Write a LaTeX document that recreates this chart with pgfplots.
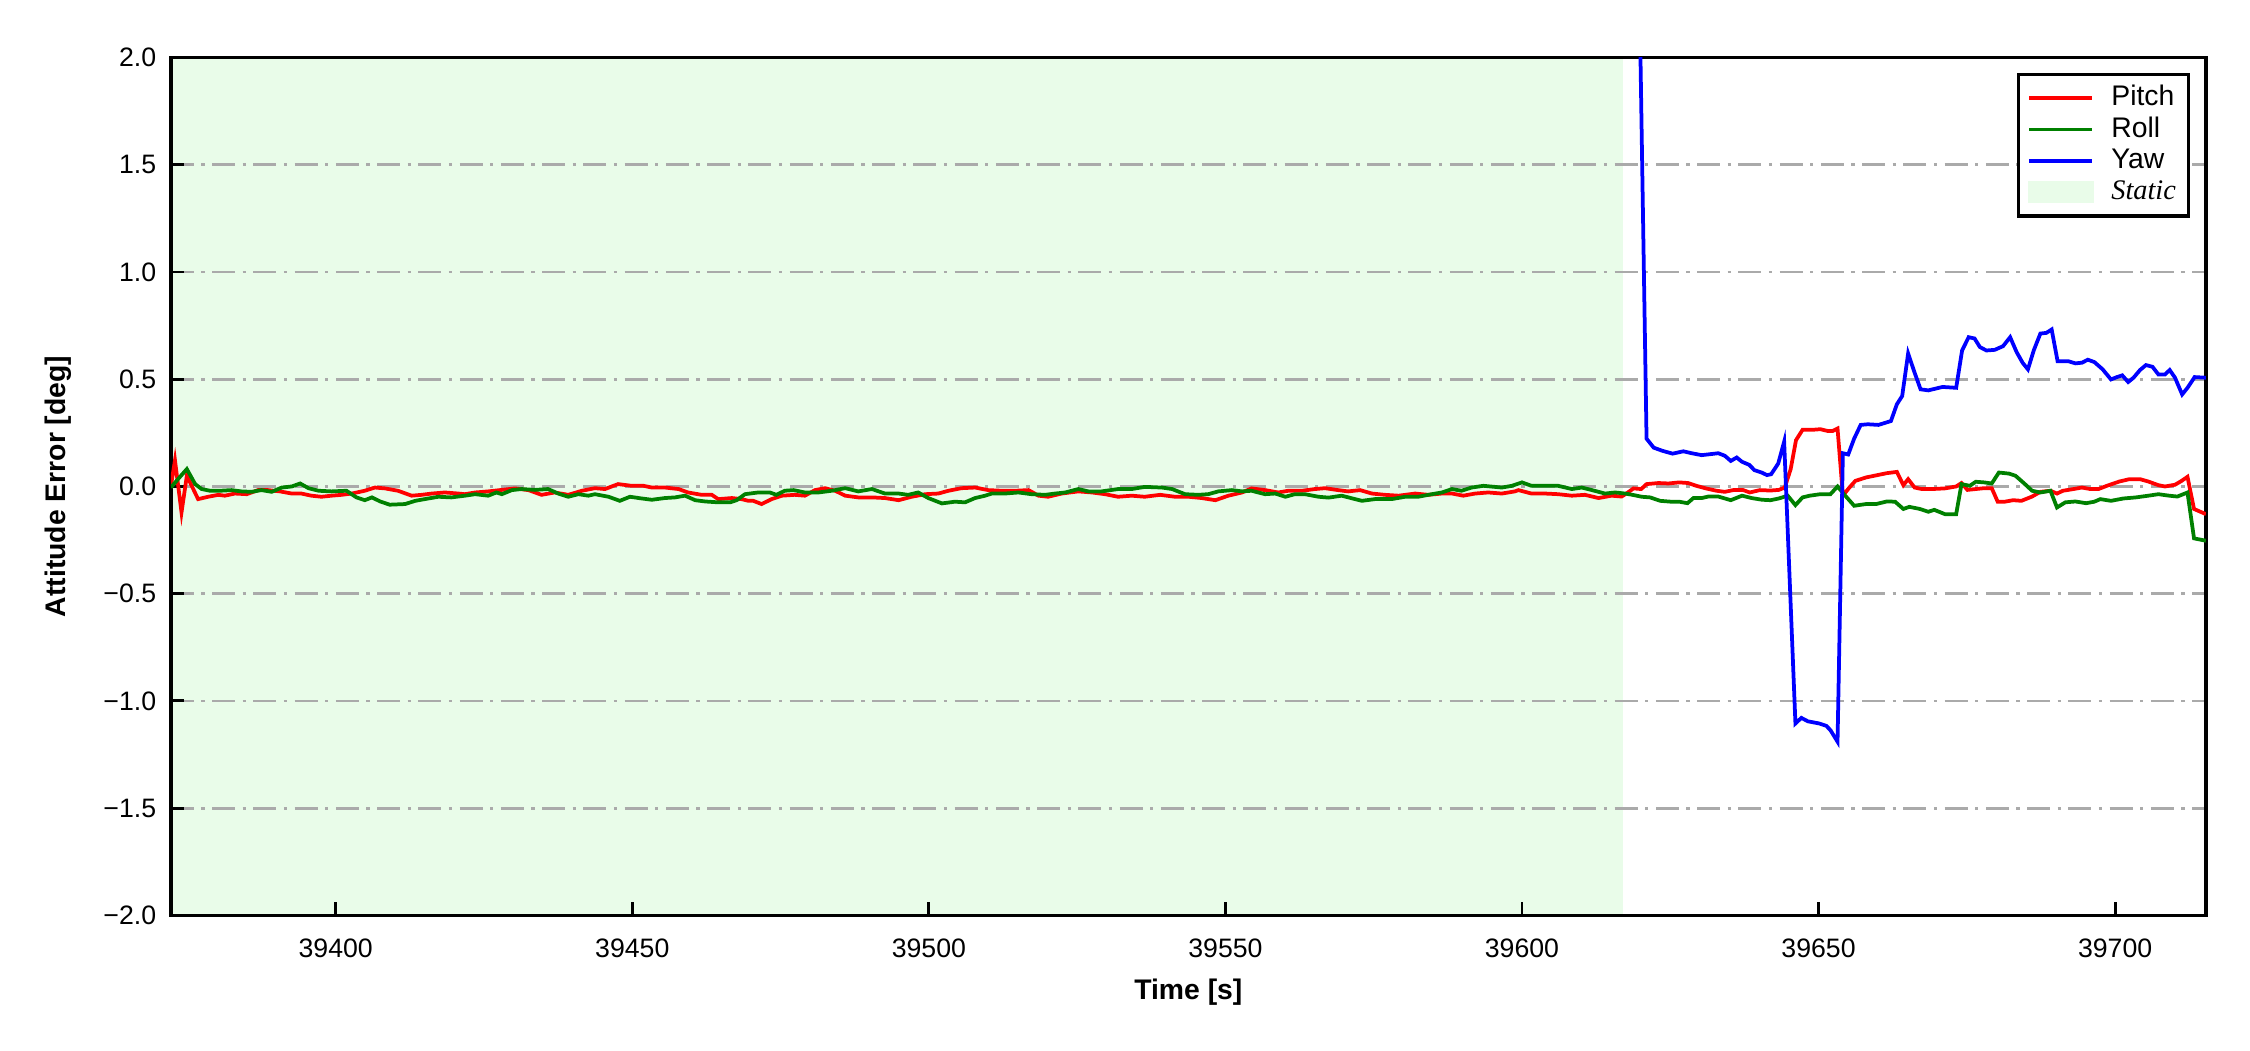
\documentclass[border=0pt]{standalone}
\usepackage{fontspec}
\setmainfont{Liberation Sans}
\newfontfamily\serifit{Liberation Serif}
\usepackage{pgfplots}
\pgfplotsset{compat=1.18}
\definecolor{staticgreen}{RGB}{233,252,233}
\definecolor{gridgray}{RGB}{170,170,170}
\definecolor{mplgreen}{RGB}{0,128,0}
\begin{document}
\begin{tikzpicture}
\begin{axis}[
  set layers,
  scale only axis,
  width=488.4pt, height=205.9pt,
  at={(0,0)}, anchor=south west,
  xmin=39372.2, xmax=39715.3,
  ymin=-2, ymax=2,
  scaled x ticks=false, scaled y ticks=false,
  xtick={39400,39450,39500,39550,39600,39650,39700},
  xticklabels={39400,39450,39500,39550,39600,39650,39700},
  ytick={-2,-1.5,-1,-0.5,0,0.5,1,1.5,2},
  yticklabels={−2.0,−1.5,−1.0,−0.5,0.0,0.5,1.0,1.5,2.0},
  tick pos=left, tick align=inside,
  major tick length=3.2pt,
  every tick/.style={black, line width=0.7pt},
  axis line style={black, line width=0.8pt},
  ymajorgrids,
  y grid style={gridgray, line width=0.65pt, dash pattern=on 5.5pt off 1.8pt on 0.8pt off 1.8pt},
  tick label style={font=\fontsize{6.4}{7}\selectfont},
  xticklabel style={yshift=-2.0pt},
  label style={font=\fontsize{6.8}{8}\selectfont\bfseries},
  xlabel={Time [s]}, ylabel={Attitude Error [deg]},
  xlabel style={at={(axis description cs:0.5,-0.0889)}, anchor=center},
  ylabel style={at={(axis description cs:-0.0555,0.5)}, anchor=center},
  legend style={at={(rel axis cs:1,1)}, anchor=north east, xshift=-3.8pt, yshift=-3.6pt,
    draw=black, line width=0.8pt, fill=white, font=\fontsize{6.8}{8}\selectfont,
    inner xsep=2.2pt, inner ysep=2pt, row sep=0pt,
    nodes={inner sep=0.8pt, text height=4.8pt, text depth=1.1pt},
    cells={anchor=west},
    /tikz/every odd column/.append style={column sep=3.4pt}},
  legend image code/.code={\draw[#1] (0pt,0pt) -- (15pt,0pt);},
]
\addplot[fill=staticgreen, draw=none, on layer=axis background, forget plot]
  coordinates {(39372.2,-2) (39617,-2) (39617,2) (39372.2,2)} -- cycle;

\addplot[red, line width=0.9pt] coordinates {
(39372.2,0.000) (39372.9,0.122) (39374.0,-0.121) (39374.9,0.050) (39376.8,-0.059)
(39378.5,-0.048) (39380.2,-0.039) (39381.3,-0.043) (39383.0,-0.033) (39385.0,-0.036)
(39386.9,-0.017) (39388.6,-0.017) (39390.6,-0.023) (39392.6,-0.033) (39394.2,-0.033)
(39395.9,-0.043) (39397.6,-0.048) (39399.3,-0.043) (39401.0,-0.039) (39402.7,-0.033)
(39404.9,-0.020) (39406.6,-0.005) (39408.3,-0.009) (39410.5,-0.020) (39412.8,-0.043)
(39414.5,-0.039) (39416.2,-0.033) (39418.4,-0.028) (39420.7,-0.033) (39421.8,-0.036)
(39423.5,-0.028) (39425.7,-0.023) (39428.0,-0.016) (39430.2,-0.009) (39432.5,-0.017)
(39434.7,-0.039) (39436.9,-0.028) (39439.2,-0.039) (39441.5,-0.020) (39443.7,-0.008)
(39445.4,-0.012) (39447.6,0.011) (39449.9,0.003) (39451.9,0.003) (39453.3,-0.005)
(39455.5,-0.005) (39457.8,-0.012) (39459.4,-0.028) (39461.7,-0.039) (39463.4,-0.039)
(39464.5,-0.059) (39466.8,-0.054) (39468.4,-0.059) (39469.6,-0.067) (39470.4,-0.067)
(39471.8,-0.082) (39473.5,-0.059) (39475.2,-0.043) (39477.4,-0.039) (39479.1,-0.043)
(39480.8,-0.017) (39482.5,-0.008) (39484.2,-0.020) (39485.9,-0.043) (39488.1,-0.051)
(39490.4,-0.051) (39492.6,-0.054) (39494.9,-0.064) (39497.1,-0.048) (39499.4,-0.036)
(39501.6,-0.033) (39503.3,-0.020) (39505.5,-0.008) (39507.8,-0.005) (39510.0,-0.017)
(39512.3,-0.020) (39514.5,-0.020) (39516.8,-0.017) (39518.5,-0.043) (39520.1,-0.048)
(39522.4,-0.033) (39525.2,-0.023) (39527.5,-0.028) (39529.7,-0.036) (39531.9,-0.048)
(39534.2,-0.043) (39536.4,-0.048) (39539.0,-0.039) (39541.5,-0.048) (39543.8,-0.048)
(39546.0,-0.054) (39548.3,-0.064) (39550.5,-0.043) (39552.8,-0.028) (39554.4,-0.009)
(39556.7,-0.017) (39558.9,-0.028) (39560.6,-0.020) (39562.9,-0.020) (39565.1,-0.012)
(39566.8,-0.008) (39569.0,-0.017) (39570.7,-0.023) (39572.7,-0.017) (39574.7,-0.033)
(39576.9,-0.039) (39579.2,-0.043) (39582.0,-0.033) (39584.2,-0.039) (39586.5,-0.033)
(39588.2,-0.033) (39590.1,-0.043) (39592.1,-0.033) (39594.3,-0.028) (39596.6,-0.033)
(39598.8,-0.023) (39599.4,-0.017) (39601.6,-0.033) (39603.9,-0.033) (39606.1,-0.036)
(39608.4,-0.043) (39610.6,-0.039) (39612.9,-0.054) (39615.1,-0.043) (39616.8,-0.047)
(39617.7,-0.031) (39618.8,-0.009) (39620.1,-0.012) (39621.0,0.011) (39623.0,0.016)
(39624.7,0.014) (39626.5,0.019) (39628.0,0.016) (39629.4,0.003) (39631.0,-0.009)
(39632.8,-0.020) (39634.2,-0.025) (39635.6,-0.017) (39637.2,-0.016) (39638.4,-0.028)
(39640.1,-0.017) (39641.9,-0.019) (39643.3,-0.016) (39644.3,-0.005) (39645.3,0.081)
(39646.2,0.216) (39647.3,0.264) (39648.9,0.264) (39650.3,0.267) (39651.5,0.259)
(39652.4,0.259) (39653.2,0.270) (39654.1,-0.043) (39655.2,-0.005) (39656.2,0.026)
(39658.0,0.042) (39659.4,0.050) (39661.5,0.062) (39663.2,0.068) (39664.3,0.006)
(39665.1,0.034) (39666.2,-0.005) (39667.4,-0.012) (39669.2,-0.012) (39671.3,-0.009)
(39673.2,0.000) (39674.1,0.016) (39675.1,-0.016) (39676.5,-0.012) (39677.9,-0.008)
(39679.2,-0.008) (39680.2,-0.071) (39681.4,-0.071) (39682.8,-0.064) (39684.2,-0.067)
(39686.0,-0.047) (39687.4,-0.025) (39689.1,-0.020) (39690.2,-0.033) (39691.2,-0.020)
(39693.0,-0.012) (39694.4,-0.005) (39695.8,-0.012) (39697.2,-0.012) (39698.6,0.003)
(39700.7,0.023) (39702.4,0.034) (39704.2,0.034) (39705.6,0.023) (39707.3,0.006)
(39708.4,0.000) (39710.1,0.008) (39711.2,0.026) (39712.2,0.045) (39713.3,-0.105)
(39715.3,-0.129)
};
\addlegendentry{Pitch}

\addplot[mplgreen, line width=0.9pt] coordinates {
(39372.2,-0.005) (39373.4,0.034) (39374.9,0.081) (39376.3,0.011) (39377.4,-0.012)
(39378.8,-0.020) (39380.5,-0.020) (39382.4,-0.017) (39384.1,-0.023) (39385.8,-0.025)
(39387.5,-0.017) (39389.2,-0.025) (39390.9,-0.005) (39392.6,0.000) (39394.0,0.014)
(39395.4,-0.008) (39397.1,-0.020) (39399.3,-0.023) (39401.8,-0.020) (39403.5,-0.051)
(39404.9,-0.064) (39406.1,-0.051) (39407.5,-0.070) (39409.1,-0.085) (39411.7,-0.082)
(39413.4,-0.067) (39415.0,-0.059) (39417.3,-0.048) (39419.5,-0.051) (39421.8,-0.043)
(39423.5,-0.036) (39425.7,-0.043) (39427.1,-0.028) (39428.0,-0.036) (39429.7,-0.017)
(39431.3,-0.012) (39433.6,-0.016) (39435.8,-0.012) (39437.5,-0.033) (39439.2,-0.048)
(39440.9,-0.036) (39442.6,-0.043) (39443.7,-0.036) (39446.0,-0.048) (39447.9,-0.067)
(39449.6,-0.048) (39451.6,-0.056) (39453.3,-0.062) (39455.5,-0.054) (39457.2,-0.051)
(39458.9,-0.043) (39460.6,-0.064) (39462.3,-0.070) (39464.5,-0.074) (39466.5,-0.074)
(39467.6,-0.064) (39469.0,-0.036) (39471.2,-0.028) (39473.2,-0.028) (39474.3,-0.039)
(39475.7,-0.020) (39477.2,-0.017) (39479.1,-0.028) (39481.4,-0.028) (39483.6,-0.020)
(39485.9,-0.008) (39488.1,-0.023) (39490.4,-0.012) (39492.6,-0.033) (39494.9,-0.033)
(39496.5,-0.039) (39498.2,-0.028) (39499.9,-0.054) (39502.2,-0.079) (39504.4,-0.071)
(39506.1,-0.074) (39507.8,-0.054) (39509.5,-0.043) (39510.6,-0.033) (39512.8,-0.033)
(39515.1,-0.028) (39517.3,-0.036) (39519.6,-0.039) (39521.3,-0.033) (39523.0,-0.028)
(39525.2,-0.012) (39526.9,-0.023) (39529.1,-0.023) (39531.9,-0.012) (39534.2,-0.012)
(39536.4,-0.002) (39539.3,-0.005) (39541.0,-0.012) (39543.2,-0.036) (39545.4,-0.039)
(39547.1,-0.036) (39548.8,-0.023) (39551.1,-0.017) (39552.8,-0.023) (39554.4,-0.020)
(39556.7,-0.036) (39558.4,-0.033) (39560.1,-0.048) (39561.7,-0.036) (39563.4,-0.036)
(39565.7,-0.048) (39567.4,-0.052) (39569.6,-0.043) (39573.0,-0.067) (39575.2,-0.059)
(39578.0,-0.059) (39580.3,-0.048) (39582.5,-0.048) (39584.8,-0.036) (39586.5,-0.028)
(39588.2,-0.012) (39589.8,-0.020) (39591.5,-0.005) (39593.5,0.003) (39596.6,-0.005)
(39598.3,0.003) (39600.0,0.019) (39601.6,0.003) (39603.9,0.003) (39606.1,0.003)
(39608.4,-0.012) (39610.1,-0.005) (39611.8,-0.017) (39614.0,-0.033) (39615.7,-0.028)
(39617.4,-0.033) (39618.8,-0.040) (39620.2,-0.048) (39621.6,-0.051) (39623.3,-0.067)
(39625.1,-0.071) (39626.5,-0.071) (39627.9,-0.078) (39628.9,-0.054) (39630.3,-0.054)
(39631.4,-0.047) (39633.1,-0.047) (39635.2,-0.064) (39637.1,-0.043) (39638.7,-0.054)
(39640.5,-0.062) (39641.9,-0.064) (39643.3,-0.056) (39644.8,-0.043) (39646.1,-0.087)
(39647.3,-0.051) (39648.5,-0.043) (39650.3,-0.036) (39652.0,-0.036) (39653.2,0.000)
(39654.5,-0.043) (39656.0,-0.090) (39658.0,-0.082) (39659.7,-0.082) (39661.5,-0.070)
(39662.9,-0.071) (39664.3,-0.105) (39665.3,-0.095) (39667.1,-0.105) (39668.5,-0.118)
(39669.5,-0.109) (39671.3,-0.129) (39673.2,-0.129) (39674.1,0.011) (39675.5,0.003)
(39676.5,0.022) (39677.9,0.019) (39679.2,0.014) (39680.4,0.065) (39682.1,0.060)
(39683.2,0.050) (39684.6,0.016) (39686.0,-0.020) (39687.4,-0.028) (39689.1,-0.020)
(39690.2,-0.098) (39691.6,-0.074) (39693.3,-0.070) (39695.1,-0.078) (39696.5,-0.071)
(39697.5,-0.059) (39699.3,-0.067) (39701.4,-0.056) (39703.5,-0.051) (39705.6,-0.043)
(39707.3,-0.036) (39709.1,-0.043) (39710.5,-0.047) (39712.2,-0.028) (39713.3,-0.242)
(39715.3,-0.253)
};
\addlegendentry{Roll}

\addplot[blue, line width=0.9pt] coordinates {
(39619.4,3.0) (39621.0,0.223) (39622.2,0.181) (39623.7,0.166) (39625.4,0.153)
(39627.2,0.164) (39628.6,0.155) (39630.3,0.146) (39633.1,0.155) (39634.2,0.143)
(39635.2,0.119) (39636.2,0.135) (39637.1,0.115) (39638.3,0.101) (39639.2,0.076)
(39640.4,0.065) (39641.3,0.053) (39642.0,0.057) (39643.2,0.107) (39644.2,0.209)
(39646.1,-1.105) (39647.1,-1.079) (39648.2,-1.095) (39650.1,-1.105) (39651.3,-1.116)
(39652.0,-1.136) (39653.2,-1.190) (39654.1,0.155) (39655.0,0.149) (39656.0,0.223)
(39657.1,0.287) (39658.3,0.290) (39660.1,0.287) (39662.2,0.305) (39663.2,0.383)
(39664.1,0.422) (39665.1,0.620) (39666.2,0.530) (39667.2,0.453) (39668.5,0.448)
(39670.9,0.464) (39673.2,0.460) (39674.2,0.634) (39675.3,0.696) (39676.3,0.690)
(39677.2,0.650) (39678.3,0.634) (39679.7,0.637) (39681.1,0.654) (39682.3,0.696)
(39683.4,0.626) (39684.4,0.577) (39685.3,0.546) (39686.3,0.636) (39687.4,0.713)
(39688.4,0.716) (39689.3,0.732) (39690.3,0.584) (39692.1,0.584) (39693.3,0.574)
(39694.4,0.577) (39695.4,0.591) (39696.5,0.580) (39697.9,0.546) (39699.3,0.499)
(39700.3,0.510) (39701.2,0.518) (39702.2,0.487) (39703.1,0.507) (39704.2,0.543)
(39705.2,0.566) (39706.3,0.558) (39707.3,0.522) (39708.4,0.522) (39709.2,0.543)
(39710.1,0.507) (39711.3,0.429) (39712.2,0.460) (39713.4,0.510) (39715.3,0.507)
};
\addlegendentry{Yaw}

\addlegendimage{legend image code/.code={\fill[staticgreen] (0pt,-2.2pt) rectangle (15pt,2.2pt);}}
\addlegendentry{\serifit\itshape Static}
\end{axis}
\pgfresetboundingbox
\path[use as bounding box] (-41pt,-32.3pt) rectangle (499pt,219.7pt);
\end{tikzpicture}
\end{document}
